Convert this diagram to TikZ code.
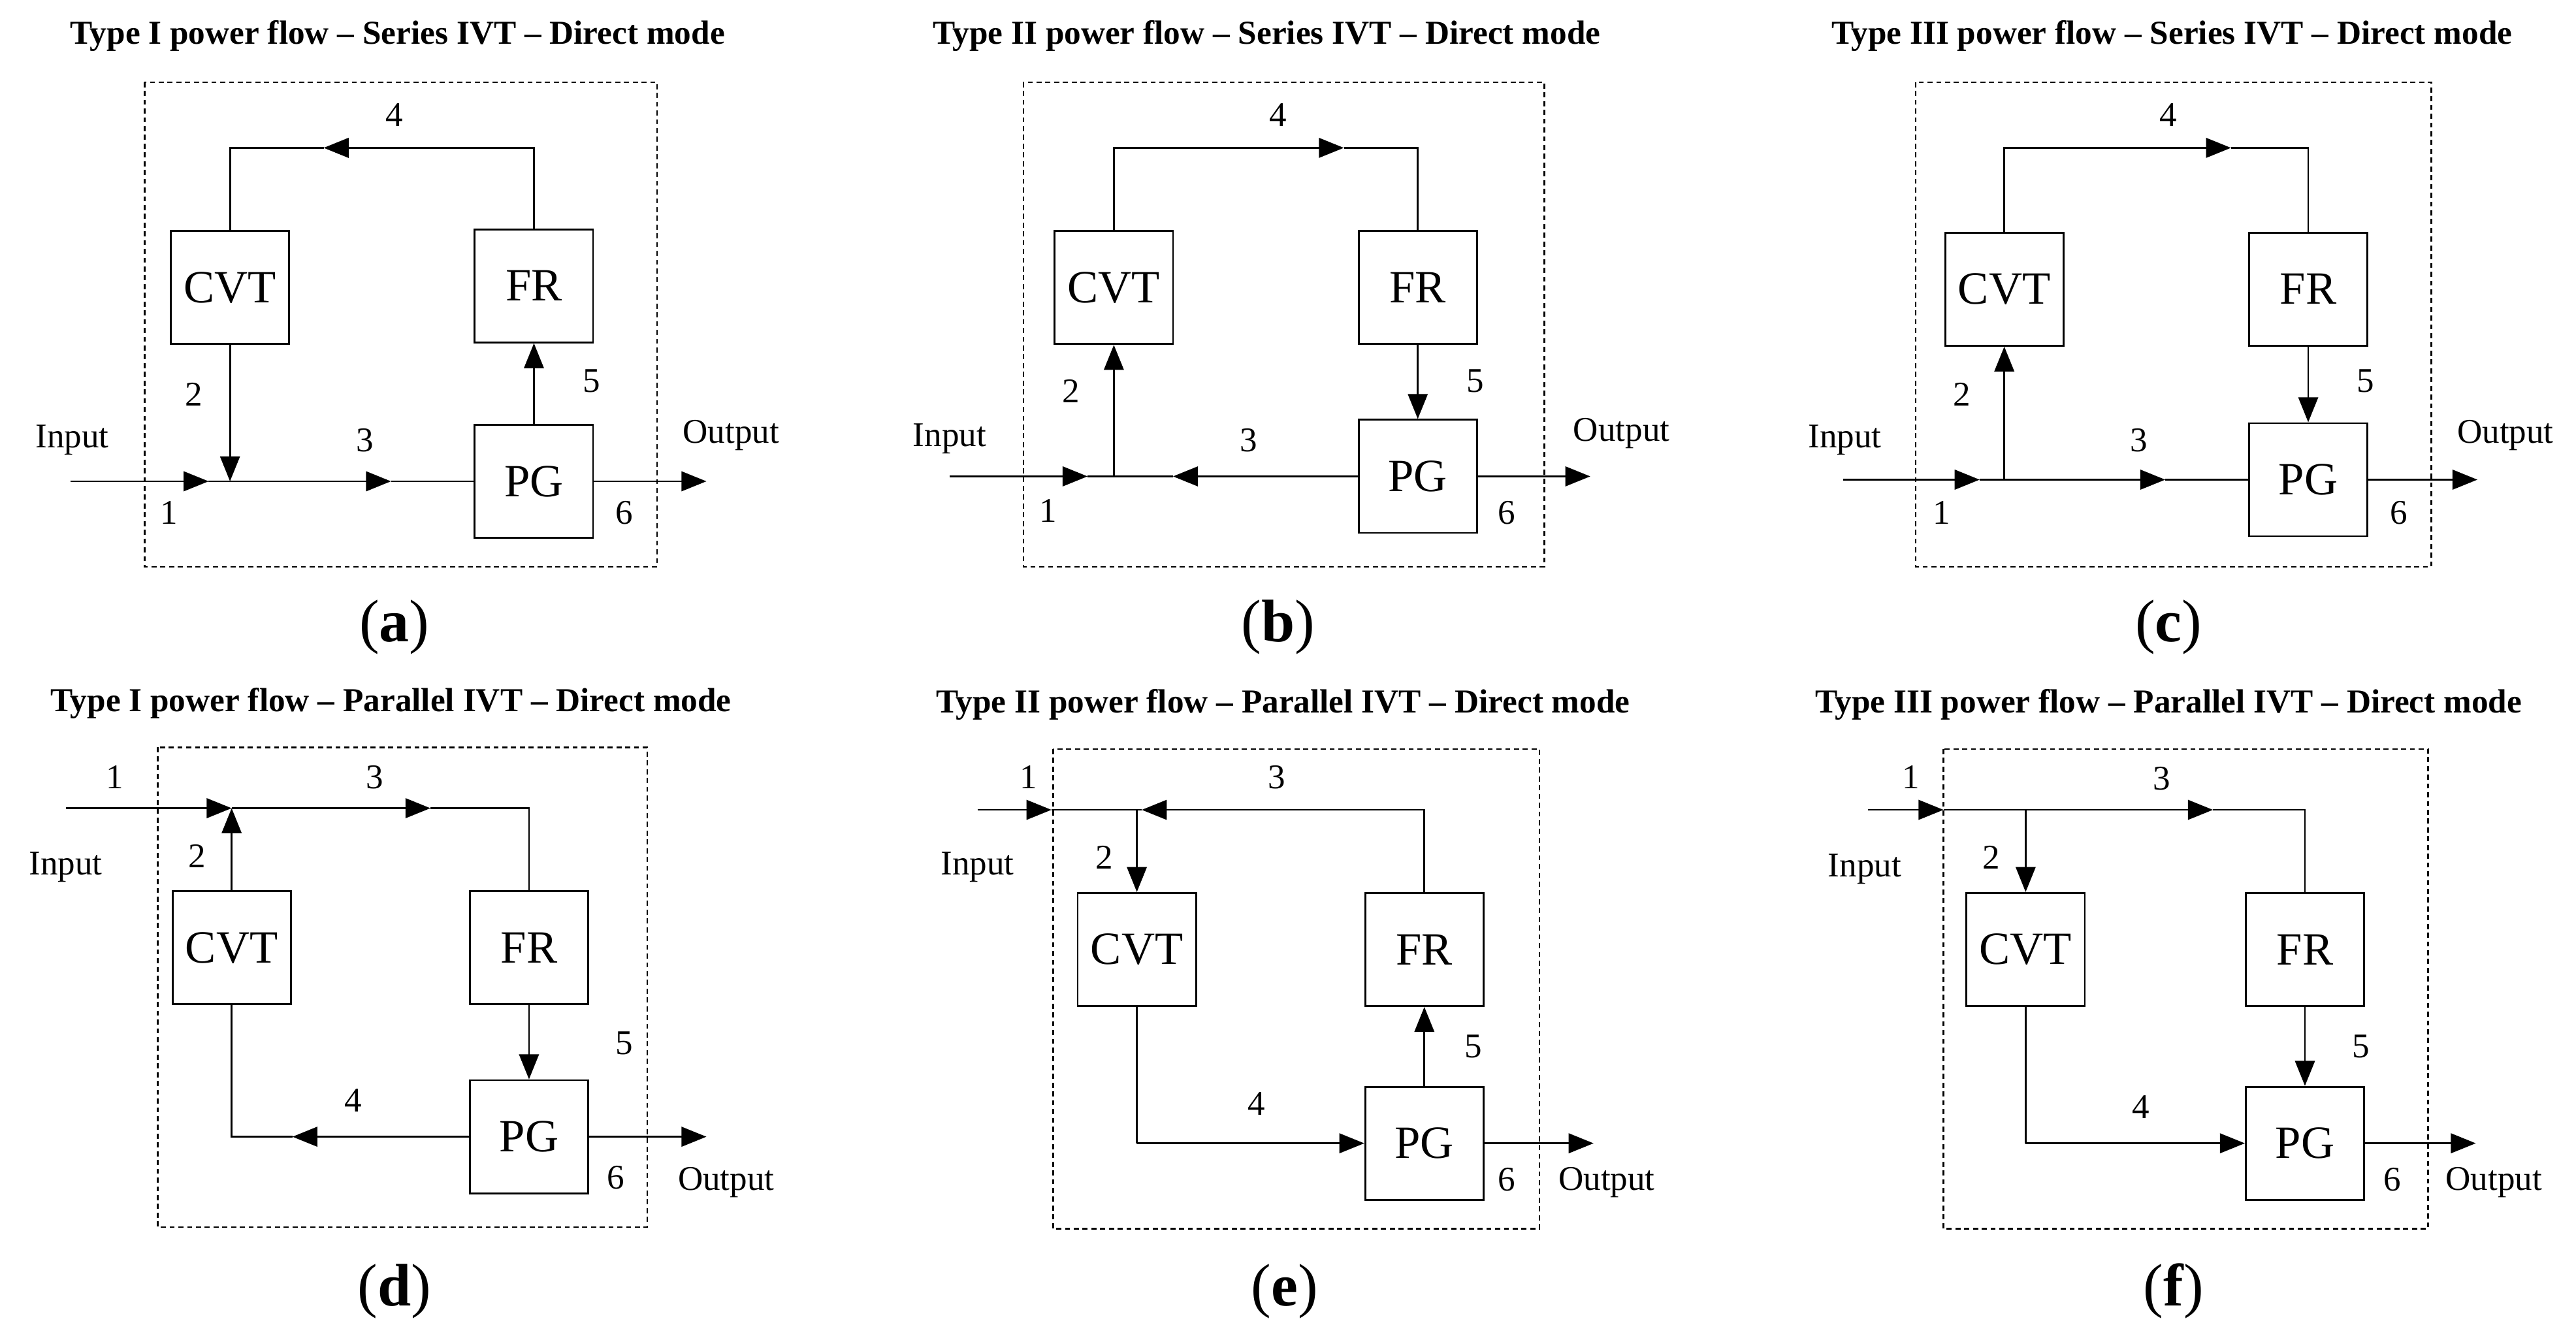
\documentclass[tikz,border=0pt]{standalone}
\usepackage{fontspec}
\setmainfont{Liberation Serif}
\usetikzlibrary{arrows.meta}
\begin{document}
\begin{tikzpicture}[x=0.025cm,y=-0.025cm,line width=0.8pt,
  box/.style={draw,minimum width=1.8cm,minimum height=1.72cm,inner sep=0pt,font=\fontsize{20}{22}\selectfont},
  arr/.style={-{Triangle[length=0.38cm,width=0.3cm]}},
  frame/.style={draw,dash pattern=on 2.2pt off 1.6pt,line width=0.7pt},
  lbl/.style={font=\fontsize{15}{17}\selectfont,inner sep=0pt},
  ttl/.style={font=\bfseries\fontsize{14.5}{16}\selectfont,inner sep=0pt},
  sub/.style={font=\fontsize{26}{28}\selectfont,inner sep=0pt}]
\useasboundingbox (0,0) rectangle (1568,818);
% frames
\draw[frame] (88,50) rectangle (400,345);
\draw[frame] (623,50) rectangle (940,345);
\draw[frame] (1166,50) rectangle (1480,345);
\draw[frame] (96,455) rectangle (394,747);
\draw[frame] (641,456) rectangle (937,748);
\draw[frame] (1183,456) rectangle (1478,748);
% titles
\node[ttl] (ta) at (242,22) {Type I power flow -- Series IVT -- Direct mode};
\node[ttl] (tb) at (771,22) {Type II power flow -- Series IVT -- Direct mode};
\node[ttl] (tc) at (1322,22) {Type III power flow -- Series IVT -- Direct mode};
\node[ttl] (td) at (238,428) {Type I power flow -- Parallel IVT -- Direct mode};
\node[ttl] (te) at (781,429) {Type II power flow -- Parallel IVT -- Direct mode};
\node[ttl] (tf) at (1320,429) {Type III power flow -- Parallel IVT -- Direct mode};
\node[sub] (sa) at (240,382) {(\textbf{a})};
\node[sub] (sb) at (778,382) {(\textbf{b})};
\node[sub] (sc) at (1320,382) {(\textbf{c})};
\node[sub] (sd) at (240,786) {(\textbf{d})};
\node[sub] (se) at (782,786) {(\textbf{e})};
\node[sub] (sf) at (1323,786) {(\textbf{f})};
% ---------- (a)
\node[box] (cvtA) at (140,175) {CVT};
\node[box] (frA) at (325,174) {FR};
\node[box] (pgA) at (325,293) {PG};
\coordinate (inA) at (43,293); \coordinate (a1) at (127,293); \coordinate (jA) at (140,293);
\coordinate (a3) at (238,293); \coordinate (outA) at (430,293);
\coordinate (tlA) at (140,90); \coordinate (trA) at (325,90); \coordinate (a4) at (197,90);
\draw[arr] (inA) -- (a1); \draw (a1) -- (jA);
\draw[arr] (jA) -- (a3); \draw (a3) -- (pgA.west);
\draw[arr] (cvtA.south) -- (jA);
\draw[arr] (frA.north) -- (trA) -- (a4); \draw (a4) -- (tlA) -- (cvtA.north);
\draw[arr] (pgA.north) -- (frA.south);
\draw[arr] (pgA.east) -- (outA);
\node[lbl] at (44,268) {Input}; \node[lbl] at (103,312) {1}; \node[lbl] at (118,240) {2};
\node[lbl] at (222,268) {3}; \node[lbl] at (240,70) {4}; \node[lbl] at (360,232) {5};
\node[lbl] at (380,312) {6}; \node[lbl] at (445,265) {Output};
% ---------- (b)
\node[box] (cvtB) at (678,175) {CVT};
\node[box] (frB) at (863,175) {FR};
\node[box] (pgB) at (863,290) {PG};
\coordinate (inB) at (578,290); \coordinate (b1) at (662,290); \coordinate (jB) at (678,290);
\coordinate (b3) at (714,290); \coordinate (outB) at (968,290);
\coordinate (tlB) at (678,90); \coordinate (trB) at (863,90); \coordinate (b4) at (818,90);
\draw[arr] (inB) -- (b1); \draw (b1) -- (jB);
\draw[arr] (jB) -- (cvtB.south);
\draw[arr] (pgB.west) -- (b3); \draw (b3) -- (jB);
\draw[arr] (cvtB.north) -- (tlB) -- (b4); \draw (b4) -- (trB) -- (frB.north);
\draw[arr] (frB.south) -- (pgB.north);
\draw[arr] (pgB.east) -- (outB);
\node[lbl] at (578,267) {Input}; \node[lbl] at (638,311) {1}; \node[lbl] at (652,238) {2};
\node[lbl] at (760,268) {3}; \node[lbl] at (778,70) {4}; \node[lbl] at (898,232) {5};
\node[lbl] at (917,312) {6}; \node[lbl] at (987,264) {Output};
% ---------- (c)
\node[box] (cvtC) at (1220,176) {CVT};
\node[box] (frC) at (1405,176) {FR};
\node[box] (pgC) at (1405,292) {PG};
\coordinate (inC) at (1122,292); \coordinate (c1) at (1205,292); \coordinate (jC) at (1220,292);
\coordinate (c3) at (1318,292); \coordinate (outC) at (1508,292);
\coordinate (tlC) at (1220,90); \coordinate (trC) at (1405,90); \coordinate (c4) at (1358,90);
\draw[arr] (inC) -- (c1); \draw (c1) -- (jC);
\draw[arr] (jC) -- (cvtC.south);
\draw[arr] (jC) -- (c3); \draw (c3) -- (pgC.west);
\draw[arr] (cvtC.north) -- (tlC) -- (c4); \draw (c4) -- (trC) -- (frC.north);
\draw[arr] (frC.south) -- (pgC.north);
\draw[arr] (pgC.east) -- (outC);
\node[lbl] at (1123,268) {Input}; \node[lbl] at (1182,312) {1}; \node[lbl] at (1194,240) {2};
\node[lbl] at (1302,268) {3}; \node[lbl] at (1320,70) {4}; \node[lbl] at (1440,232) {5};
\node[lbl] at (1460,312) {6}; \node[lbl] at (1525,265) {Output};
% ---------- (d)
\node[box] (cvtD) at (141,577) {CVT};
\node[box] (frD) at (322,577) {FR};
\node[box] (pgD) at (322,692) {PG};
\coordinate (inD) at (40,492); \coordinate (jD) at (141,492); \coordinate (d3) at (262,492);
\coordinate (trD) at (322,492); \coordinate (blD) at (141,692); \coordinate (d4) at (178,692);
\coordinate (outD) at (430,692);
\draw[arr] (inD) -- (jD);
\draw[arr] (cvtD.north) -- (jD);
\draw[arr] (jD) -- (d3); \draw (d3) -- (trD) -- (frD.north);
\draw[arr] (frD.south) -- (pgD.north);
\draw[arr] (pgD.west) -- (d4); \draw (d4) -- (blD) -- (cvtD.south);
\draw[arr] (pgD.east) -- (outD);
\node[lbl] at (70,473) {1}; \node[lbl] at (40,528) {Input}; \node[lbl] at (120,521) {2};
\node[lbl] at (228,473) {3}; \node[lbl] at (215,670) {4}; \node[lbl] at (380,635) {5};
\node[lbl] at (375,717) {6}; \node[lbl] at (442,720) {Output};
% ---------- (e)
\node[box] (cvtE) at (692,578) {CVT};
\node[box] (frE) at (867,578) {FR};
\node[box] (pgE) at (867,696) {PG};
\coordinate (inE) at (595,493); \coordinate (e1) at (640,493); \coordinate (jE) at (692,493);
\coordinate (e3) at (695,493); \coordinate (trE) at (867,493); \coordinate (blE) at (692,696);
\coordinate (outE) at (970,696);
\draw[arr] (inE) -- (e1); \draw (e1) -- (jE);
\draw[arr] (jE) -- (cvtE.north);
\draw[arr] (frE.north) -- (trE) -- (e3); \draw (e3) -- (jE);
\draw (cvtE.south) -- (blE); \draw[arr] (blE) -- (pgE.west);
\draw[arr] (pgE.north) -- (frE.south);
\draw[arr] (pgE.east) -- (outE);
\node[lbl] at (626,473) {1}; \node[lbl] at (595,528) {Input}; \node[lbl] at (672,522) {2};
\node[lbl] at (777,473) {3}; \node[lbl] at (765,672) {4}; \node[lbl] at (897,637) {5};
\node[lbl] at (917,718) {6}; \node[lbl] at (978,720) {Output};
% ---------- (f)
\node[box] (cvtF) at (1233,578) {CVT};
\node[box] (frF) at (1403,578) {FR};
\node[box] (pgF) at (1403,696) {PG};
\coordinate (inF) at (1137,493); \coordinate (f1) at (1183,493); \coordinate (jF) at (1233,493);
\coordinate (f3) at (1347,493); \coordinate (trF) at (1403,493); \coordinate (blF) at (1233,696);
\coordinate (outF) at (1507,696);
\draw[arr] (inF) -- (f1); \draw (f1) -- (jF);
\draw[arr] (jF) -- (cvtF.north);
\draw[arr] (jF) -- (f3); \draw (f3) -- (trF) -- (frF.north);
\draw[arr] (frF.south) -- (pgF.north);
\draw (cvtF.south) -- (blF); \draw[arr] (blF) -- (pgF.west);
\draw[arr] (pgF.east) -- (outF);
\node[lbl] at (1163,473) {1}; \node[lbl] at (1135,529) {Input}; \node[lbl] at (1212,522) {2};
\node[lbl] at (1316,474) {3}; \node[lbl] at (1303,674) {4}; \node[lbl] at (1437,637) {5};
\node[lbl] at (1456,718) {6}; \node[lbl] at (1518,720) {Output};
\end{tikzpicture}
\end{document}
